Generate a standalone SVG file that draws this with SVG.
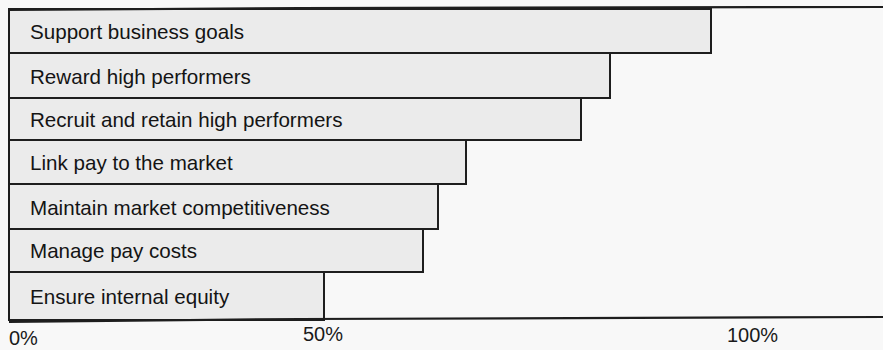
<svg xmlns="http://www.w3.org/2000/svg" width="883" height="350" viewBox="0 0 883 350">
  <style>
    .bar { fill: #ebebeb; stroke: #1e1e1e; stroke-width: 2; }
    .axis { fill: none; stroke: #1e1e1e; stroke-width: 2.2; }
    .lbl { font-family: "Liberation Sans", Arial, sans-serif; font-size: 20.6px; fill: #141414; }
    .tick { font-family: "Liberation Sans", Arial, sans-serif; font-size: 20px; fill: #1a1a1a; }
  </style>
  <rect x="0" y="0" width="883" height="350" fill="#f8f8f8"/>

  <g id="bar-support-business-goals">
    <rect class="bar" x="9" y="9" width="702" height="44"/>
    <text class="lbl" x="30" y="39">Support business goals</text>
  </g>
  <g id="bar-reward-high-performers">
    <rect class="bar" x="9" y="53" width="601" height="45"/>
    <text class="lbl" x="30" y="83.5">Reward high performers</text>
  </g>
  <g id="bar-recruit-retain">
    <rect class="bar" x="9" y="98" width="572" height="42"/>
    <text class="lbl" x="30" y="126.5">Recruit and retain high performers</text>
  </g>
  <g id="bar-link-pay-market">
    <rect class="bar" x="9" y="140" width="457" height="44"/>
    <text class="lbl" x="30" y="169.5">Link pay to the market</text>
  </g>
  <g id="bar-market-competitiveness">
    <rect class="bar" x="9" y="184" width="429" height="45"/>
    <text class="lbl" x="30" y="214.5">Maintain market competitiveness</text>
  </g>
  <g id="bar-manage-pay-costs">
    <rect class="bar" x="9" y="229" width="414" height="43"/>
    <text class="lbl" x="30" y="258">Manage pay costs</text>
  </g>
  <g id="bar-internal-equity">
    <rect class="bar" x="9" y="272" width="315" height="48"/>
    <text class="lbl" x="30" y="303.5">Ensure internal equity</text>
  </g>

  <!-- frame lines running the full chart width -->
  <g id="axes">
    <path class="axis" d="M9 10 L300 8 L883 7"/>
    <path class="axis" d="M9 322 L300 319 L883 317"/>
  </g>

  <g id="scale">
    <text class="tick" x="9" y="345">0%</text>
    <text class="tick" x="303" y="341">50%</text>
    <text class="tick" x="727" y="342">100%</text>
  </g>
</svg>
